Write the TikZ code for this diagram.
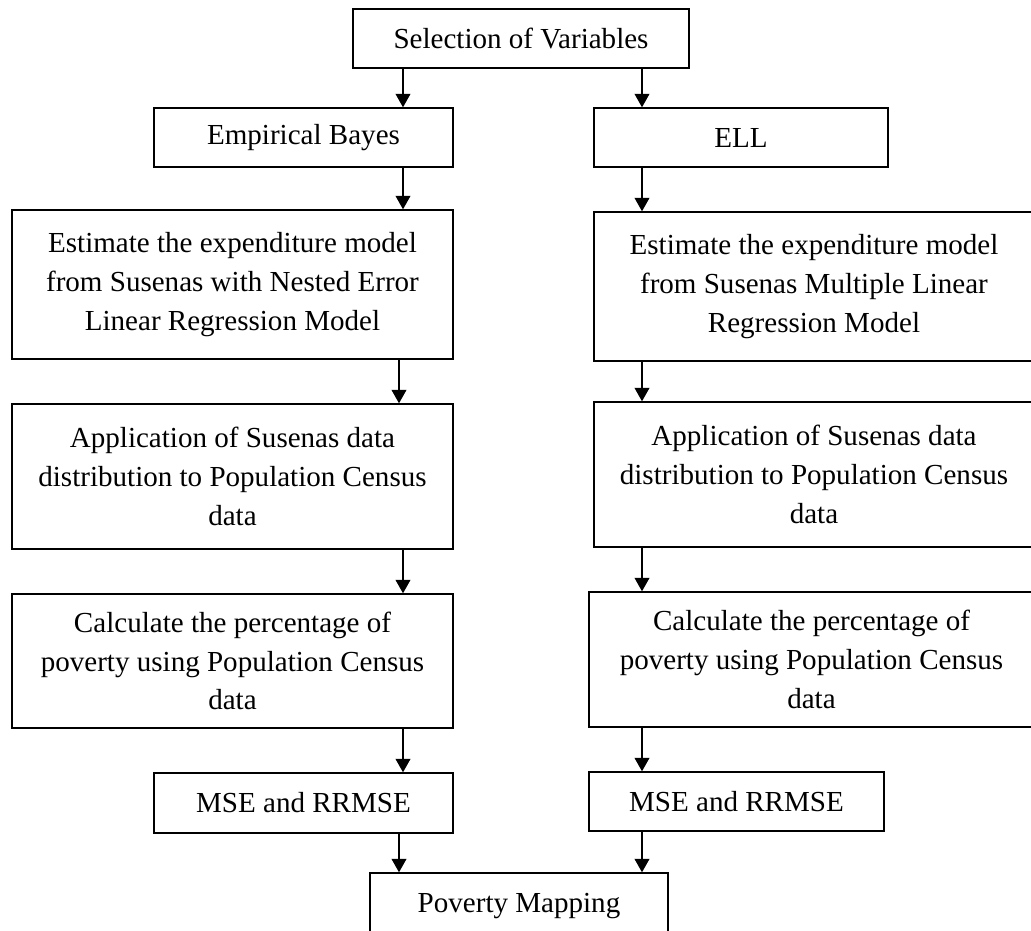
\documentclass[tikz,border=0pt]{standalone}
\usepackage{fontspec}
\setmainfont{Liberation Serif}
\usetikzlibrary{arrows.meta}

\begin{document}
\begin{tikzpicture}[x=0.015cm, y=0.015cm]
                \tikzstyle{every node}+=[font=\fontsize{12.4}{16.6}\selectfont, align=center, inner sep=0pt]
                \tikzstyle{box}=[draw=black, line width=0.6pt]
                \tikzstyle{arr}=[-{Triangle[width=0.22cm,length=0.2cm]}, line width=0.6pt]
                \useasboundingbox (0,0) rectangle (1031,-931);
                \coordinate (lx) at (403,0);
                \coordinate (lxb) at (399,0);
                \coordinate (rx) at (642,0);
                \node [box, minimum width=5.04cm, minimum height=0.885cm] (sel) at (521,-38.5) {Selection of Variables};
                \node [box, minimum width=4.485cm, minimum height=0.885cm] (eb) at (303.5,-137.5) {Empirical Bayes};
                \node [box, minimum width=4.41cm, minimum height=0.885cm] (ell) at (741,-137.5) {ELL};
                \node [box, minimum width=6.615cm, minimum height=2.235cm] (estl) at (232.5,-284.5) {Estimate the expenditure model\\from Susenas with Nested Error\\Linear Regression Model};
                \node [box, minimum width=6.6cm, minimum height=2.235cm] (estr) at (814,-286.5) {Estimate the expenditure model\\from Susenas Multiple Linear\\Regression Model};
                \node [box, minimum width=6.615cm, minimum height=2.175cm] (appl) at (232.5,-476.5) {Application of Susenas data\\distribution to Population Census\\data};
                \node [box, minimum width=6.6cm, minimum height=2.175cm] (appr) at (814,-474.5) {Application of Susenas data\\distribution to Population Census\\data};
                \node [box, minimum width=6.615cm, minimum height=2.01cm] (calcl) at (232.5,-661) {Calculate the percentage of\\poverty using Population Census\\data};
                \node [box, minimum width=6.675cm, minimum height=2.025cm] (calcr) at (811.5,-659.5) {Calculate the percentage of\\poverty using Population Census\\data};
                \node [box, minimum width=4.485cm, minimum height=0.9cm] (msel) at (303.5,-803) {MSE and RRMSE};
                \node [box, minimum width=4.425cm, minimum height=0.885cm] (mser) at (736.5,-801.5) {MSE and RRMSE};
                \node [box, minimum width=4.47cm, minimum height=1.005cm] (map) at (519,-906.5) {Poverty Mapping};
                \draw [arr] (sel.south -| lx) -- (eb.north -| lx);
                \draw [arr] (sel.south -| rx) -- (ell.north -| rx);
                \draw [arr] (eb.south -| lx) -- (estl.north -| lx);
                \draw [arr] (ell.south -| rx) -- (estr.north -| rx);
                \draw [arr] (estl.south -| lxb) -- (appl.north -| lxb);
                \draw [arr] (estr.south -| rx) -- (appr.north -| rx);
                \draw [arr] (appl.south -| lx) -- (calcl.north -| lx);
                \draw [arr] (appr.south -| rx) -- (calcr.north -| rx);
                \draw [arr] (calcl.south -| lx) -- (msel.north -| lx);
                \draw [arr] (calcr.south -| rx) -- (mser.north -| rx);
                \draw [arr] (msel.south -| lxb) -- (map.north -| lxb);
                \draw [arr] (mser.south -| rx) -- (map.north -| rx);
            \end{tikzpicture}
\end{document}
